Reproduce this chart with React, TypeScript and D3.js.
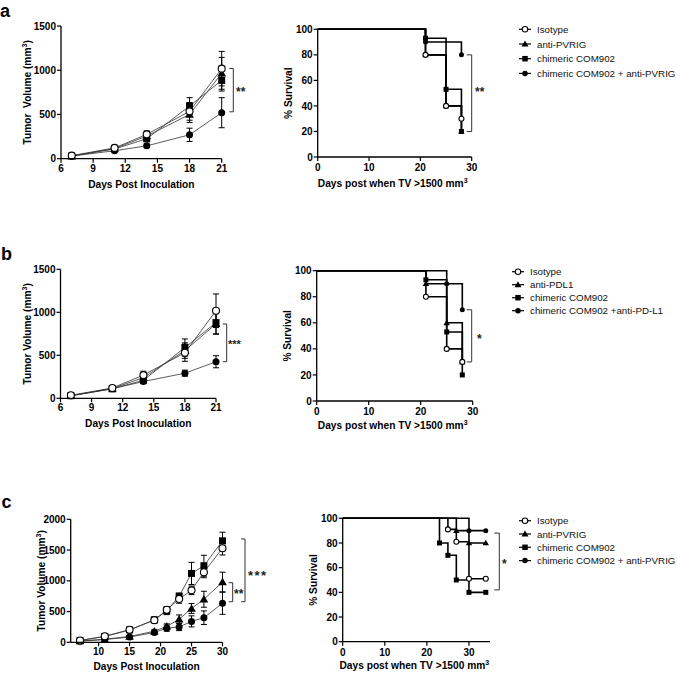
import React from 'react';
import * as d3 from 'd3';

const FONT = "'Liberation Sans', Arial, Helvetica, sans-serif";

// ---------- Panel a : tumor volume ----------
const aDays = [7, 11, 14, 18, 21];
const aIsotype = [35, 122, 275, 535, 1018];
const aIsotypeErr = [5, 15, 40, 100, 195];
const aPVRIG = [30, 115, 255, 500, 965];
const aPVRIGErr = [5, 15, 35, 90, 180];
const aCOM902 = [30, 110, 225, 595, 885];
const aCOM902Err = [5, 12, 30, 95, 120];
const aCombo = [30, 90, 145, 270, 520];
const aComboErr = [4, 10, 20, 75, 170];

// ---------- Panel b : tumor volume ----------
const bDays = [7, 11, 14, 18, 21];
const bIsotype = [35, 120, 270, 530, 1018];
const bIsotypeErr = [5, 12, 45, 100, 195];
const bPDL1 = [30, 115, 240, 555, 865];
const bPDL1Err = [5, 12, 35, 90, 120];
const bCOM902 = [30, 110, 210, 590, 880];
const bCOM902Err = [5, 12, 30, 100, 130];
const bCombo = [30, 112, 195, 292, 425];
const bComboErr = [4, 10, 20, 35, 70];

// ---------- Panel c : tumor volume ----------
const cDays = [7, 11, 15, 19, 21, 23, 25, 27, 30];
const cIsotype = [30, 98, 205, 360, 530, 705, 845, 1140, 1530];
const cIsotypeErr = [5, 10, 20, 40, 50, 70, 70, 90, 110];
const cPVRIG = [20, 50, 95, 180, 260, 375, 550, 700, 980];
const cPVRIGErr = [4, 8, 15, 30, 40, 70, 80, 130, 160];
const cCOM902 = [28, 95, 200, 365, 510, 750, 1120, 1245, 1650];
const cCOM902Err = [5, 10, 20, 40, 60, 50, 180, 170, 140];
const cCombo = [18, 45, 85, 160, 230, 250, 340, 400, 635];
const cComboErr = [4, 8, 15, 30, 50, 60, 90, 110, 180];

// ---------- Survival (event times / % survival) ----------
const aSurvIsotypeT = [21, 25, 28];
const aSurvIsotypeS = [80, 40, 30];
const aSurvPVRIGT = [21, 25, 28];
const aSurvPVRIGS = [80, 40, 20];
const aSurvCOM902T = [21, 25, 28];
const aSurvCOM902S = [93, 53, 20];
const aSurvComboT = [21, 28];
const aSurvComboS = [90, 80];
const aSurvEnd = 28;

const bSurvIsotypeT = [21, 25, 28];
const bSurvIsotypeS = [80, 40, 30];
const bSurvPDL1T = [21, 25, 28];
const bSurvPDL1S = [90, 60, 30];
const bSurvCOM902T = [21, 25, 28];
const bSurvCOM902S = [93, 53, 20];
const bSurvComboT = [25, 28];
const bSurvComboS = [90, 70];
const bSurvEnd = 28;

const cSurvIsotypeT = [25, 27, 30];
const cSurvIsotypeS = [91, 81, 51];
const cSurvPVRIGT = [27, 30];
const cSurvPVRIGS = [90, 80];
const cSurvCOM902T = [23, 25, 27, 30];
const cSurvCOM902S = [80, 70, 50, 40];
const cSurvComboT = [30];
const cSurvComboS = [90];
const cSurvEnd = 34;

const legendA = ['Isotype', 'anti-PVRIG', 'chimeric COM902', 'chimeric COM902 + anti-PVRIG'];
const legendB = ['Isotype', 'anti-PDL1', 'chimeric COM902', 'chimeric COM902 +anti-PD-L1'];
const legendC = ['Isotype', 'anti-PVRIG', 'chimeric COM902', 'chimeric COM902 + anti-PVRIG'];
const shapes = ['open', 'triangle', 'square', 'circle'];

const tumorYTicksAB = [0, 500, 1000, 1500];
const tumorXTicksAB = [6, 9, 12, 15, 18, 21];
const tumorYTicksC = [0, 500, 1000, 1500, 2000];
const tumorXTicksC = [10, 15, 20, 25, 30];
const survYTicks = [0, 20, 40, 60, 80, 100];
const survXTicks = [0, 10, 20, 30];

type Shape = string;

function Marker({ shape, x, y, s }: { shape: Shape; x: number; y: number; s: number }) {
  if (shape === 'open')
    return <circle cx={x} cy={y} r={s / 2} fill="#fff" stroke="#000" strokeWidth={1.1} />;
  if (shape === 'circle') return <circle cx={x} cy={y} r={s / 2} fill="#000" />;
  if (shape === 'square')
    return <rect x={x - s / 2} y={y - s / 2} width={s} height={s} fill="#000" />;
  const h = s * 0.95;
  return (
    <path
      d={`M${x},${y - h * 0.6} L${x + s * 0.58},${y + h * 0.45} L${x - s * 0.58},${y + h * 0.45} Z`}
      fill="#000"
    />
  );
}

function YAxis({ x, scale, ticks }: any) {
  const [r0, r1] = scale.range();
  return (
    <g>
      <line x1={x} x2={x} y1={r0} y2={r1} stroke="#000" strokeWidth={1.3} />
      {ticks.map((t: number) => (
        <g key={t}>
          <line x1={x - 4} x2={x} y1={scale(t)} y2={scale(t)} stroke="#000" strokeWidth={1.2} />
          <text
            x={x - 5}
            y={scale(t) + 3.6}
            textAnchor="end"
            fontSize={10}
            fontWeight="bold"
            fontFamily={FONT}
          >
            {t}
          </text>
        </g>
      ))}
    </g>
  );
}

function XAxis({ y, scale, ticks, labelDy = 13 }: any) {
  const [r0, r1] = scale.range();
  return (
    <g>
      <line x1={r0} x2={r1} y1={y} y2={y} stroke="#000" strokeWidth={1.3} />
      {ticks.map((t: number) => (
        <g key={t}>
          <line x1={scale(t)} x2={scale(t)} y1={y} y2={y + 4} stroke="#000" strokeWidth={1.2} />
          <text
            x={scale(t)}
            y={y + labelDy}
            textAnchor="middle"
            fontSize={10}
            fontWeight="bold"
            fontFamily={FONT}
          >
            {t}
          </text>
        </g>
      ))}
    </g>
  );
}

function Bracket({ x, yTop, yBot, tick = 4, label, lx, ly, fs = 12, ls = 0 }: any) {
  return (
    <g>
      <path
        d={`M${x - tick},${yTop} H${x} V${yBot} H${x - tick}`}
        fill="none"
        stroke="#333"
        strokeWidth={1}
      />
      <text
        x={lx}
        y={ly}
        fontSize={fs}
        fontWeight="bold"
        fontFamily={FONT}
        letterSpacing={ls}
        fill="#222"
      >
        {label}
      </text>
    </g>
  );
}

function TumorPanel({ xs, ys, days, series, errs, xTicks, yTicks, titleY, titleDy = 29, doubleSpace }: any) {
  const [xl] = xs.range();
  const [yb] = ys.range();
  const line = d3
    .line<number>()
    .x((_, i) => xs(days[i]))
    .y((d) => ys(d));
  const order = [3, 1, 2, 0];
  const yCenter = (ys.range()[0] + ys.range()[1]) / 2;
  const xCenter = (xs.range()[0] + xs.range()[1]) / 2;
  return (
    <g>
      {order.map((k) => (
        <g key={'e' + k}>
          {series[k].map((v: number, i: number) => {
            const e = errs[k][i];
            const x = xs(days[i]);
            return (
              <g key={i}>
                <line x1={x} x2={x} y1={ys(v - e)} y2={ys(v + e)} stroke="#000" strokeWidth={1} />
                <line x1={x - 3} x2={x + 3} y1={ys(v + e)} y2={ys(v + e)} stroke="#000" strokeWidth={1} />
                <line x1={x - 3} x2={x + 3} y1={ys(v - e)} y2={ys(v - e)} stroke="#000" strokeWidth={1} />
              </g>
            );
          })}
        </g>
      ))}
      {order.map((k) => (
        <path key={'l' + k} d={line(series[k]) || ''} fill="none" stroke="#333" strokeWidth={0.8} />
      ))}
      {order.map((k) => (
        <g key={'m' + k}>
          {series[k].map((v: number, i: number) => (
            <Marker key={i} shape={shapes[k]} x={xs(days[i])} y={ys(v)} s={k === 1 ? 7.5 : 7} />
          ))}
        </g>
      ))}
      <YAxis x={xl} scale={ys} ticks={yTicks} />
      <XAxis y={yb} scale={xs} ticks={xTicks} />
      <text
        x={xCenter}
        y={yb + titleDy}
        textAnchor="middle"
        fontSize={10.2}
        fontWeight="bold"
        fontFamily={FONT}
      >
        Days Post Inoculation
      </text>
      <text
        transform={`translate(${titleY},${yCenter}) rotate(-90)`}
        textAnchor="middle"
        fontSize={10.2}
        fontWeight="bold"
        fontFamily={FONT}
        style={{ whiteSpace: 'pre' }}
      >
        {doubleSpace ? 'Tumor  Volume (mm' : 'Tumor Volume (mm'}
        <tspan dy={-4} fontSize={7}>
          3
        </tspan>
        <tspan dy={4}>)</tspan>
      </text>
    </g>
  );
}

function SurvPanel({ xs, ys, groups, end, titleY, xTicks, titleDy = 30 }: any) {
  const [xl] = xs.range();
  const [yb] = ys.range();
  const line = d3
    .line<[number, number]>()
    .x((d) => xs(d[0]))
    .y((d) => ys(d[1]))
    .curve(d3.curveStepAfter);
  const order = [3, 2, 1, 0];
  const yCenter = (ys.range()[0] + ys.range()[1]) / 2;
  const xCenter = (xs.range()[0] + xs.range()[1]) / 2;
  return (
    <g>
      {order.map((k) => {
        const g = groups[k];
        const pts: [number, number][] = [[0, 100]];
        g.t.forEach((t: number, i: number) => pts.push([t, g.s[i]]));
        const last = pts[pts.length - 1];
        if (last[0] < end) pts.push([end, last[1]]);
        return <path key={'l' + k} d={line(pts) || ''} fill="none" stroke="#000" strokeWidth={1.6} />;
      })}
      {order.map((k) => {
        const g = groups[k];
        const pts: [number, number][] = g.t.map((t: number, i: number) => [t, g.s[i]]);
        const last = pts[pts.length - 1];
        if (last[0] < end) pts.push([end, last[1]]);
        return (
          <g key={'m' + k}>
            {pts.map((p, i) => (
              <Marker key={i} shape={shapes[k]} x={xs(p[0])} y={ys(p[1])} s={k === 1 ? 5.5 : 5} />
            ))}
          </g>
        );
      })}
      <YAxis x={xl} scale={ys} ticks={survYTicks} />
      <XAxis y={yb} scale={xs} ticks={xTicks} labelDy={14} />
      <text
        x={xCenter - 2}
        y={yb + titleDy}
        textAnchor="middle"
        fontSize={10.2}
        fontWeight="bold"
        fontFamily={FONT}
      >
        Days post when TV &gt;1500 mm
        <tspan dy={-4} fontSize={7}>
          3
        </tspan>
      </text>
      <text
        transform={`translate(${titleY},${yCenter}) rotate(-90)`}
        textAnchor="middle"
        fontSize={10.2}
        fontWeight="bold"
        fontFamily={FONT}
      >
        % Survival
      </text>
    </g>
  );
}

function Legend({ x, y0, dy, labels }: any) {
  return (
    <g>
      {labels.map((l: string, i: number) => {
        const y = y0 + i * dy;
        return (
          <g key={l}>
            <line x1={x - 6} x2={x + 6} y1={y} y2={y} stroke="#000" strokeWidth={1.2} />
            <Marker shape={shapes[i]} x={x} y={y} s={i === 1 ? 6 : 5.5} />
            <text x={x + 12} y={y + 3.5} fontSize={9.75} fontFamily={FONT} fill="#111">
              {l}
            </text>
          </g>
        );
      })}
    </g>
  );
}

export default function App() {
  // Panel a
  const aTx = d3.scaleLinear().domain([6, 21]).range([61, 221.7]);
  const aTy = d3.scaleLinear().domain([0, 1500]).range([158.7, 26]);
  const aSx = d3.scaleLinear().domain([0, 30]).range([317.7, 471.7]);
  const aSy = d3.scaleLinear().domain([0, 100]).range([157, 29.3]);
  // Panel b
  const bTx = d3.scaleLinear().domain([6, 21]).range([60.5, 216]);
  const bTy = d3.scaleLinear().domain([0, 1500]).range([398.3, 269.3]);
  const bSx = d3.scaleLinear().domain([0, 30]).range([316.7, 472.7]);
  const bSy = d3.scaleLinear().domain([0, 100]).range([401, 270.7]);
  // Panel c
  const cTx = d3.scaleLinear().domain([5.5, 30]).range([70.7, 222.5]);
  const cTy = d3.scaleLinear().domain([0, 2000]).range([642.3, 519.3]);
  const cSx = d3.scaleLinear().domain([0, 35]).range([342.7, 490]);
  const cSy = d3.scaleLinear().domain([0, 100]).range([641.7, 518.3]);

  const aGroups = [
    { t: aSurvIsotypeT, s: aSurvIsotypeS },
    { t: aSurvPVRIGT, s: aSurvPVRIGS },
    { t: aSurvCOM902T, s: aSurvCOM902S },
    { t: aSurvComboT, s: aSurvComboS },
  ];
  const bGroups = [
    { t: bSurvIsotypeT, s: bSurvIsotypeS },
    { t: bSurvPDL1T, s: bSurvPDL1S },
    { t: bSurvCOM902T, s: bSurvCOM902S },
    { t: bSurvComboT, s: bSurvComboS },
  ];
  const cGroups = [
    { t: cSurvIsotypeT, s: cSurvIsotypeS },
    { t: cSurvPVRIGT, s: cSurvPVRIGS },
    { t: cSurvCOM902T, s: cSurvCOM902S },
    { t: cSurvComboT, s: cSurvComboS },
  ];

  return (
    <svg
      width={677}
      height={673}
      style={{ position: 'absolute', left: 0, top: 0, background: '#fff' }}
      fontFamily={FONT}
    >
      <rect width={677} height={673} fill="#fff" />
      <text x={0} y={16.5} fontSize={18} fontWeight="bold" fontFamily={FONT}>a</text>
      <text x={1} y={260} fontSize={18} fontWeight="bold" fontFamily={FONT}>b</text>
      <text x={1.5} y={508} fontSize={18} fontWeight="bold" fontFamily={FONT}>c</text>

      <TumorPanel
        xs={aTx}
        ys={aTy}
        days={aDays}
        series={[aIsotype, aPVRIG, aCOM902, aCombo]}
        errs={[aIsotypeErr, aPVRIGErr, aCOM902Err, aComboErr]}
        xTicks={tumorXTicksAB}
        yTicks={tumorYTicksAB}
        titleY={30.5}
        doubleSpace
      />
      <Bracket x={233.3} yTop={aTy(1020)} yBot={aTy(530)} label="**" lx={236} ly={96} fs={12} />

      <SurvPanel xs={aSx} ys={aSy} groups={aGroups} end={aSurvEnd} titleY={292} xTicks={survXTicks} />
      <Bracket x={471.7} yTop={aSy(80)} yBot={aSy(20)} tick={5} label="**" lx={475} ly={96} fs={12} />
      <Legend x={525} y0={29.3} dy={14.7} labels={legendA} />

      <TumorPanel
        xs={bTx}
        ys={bTy}
        days={bDays}
        series={[bIsotype, bPDL1, bCOM902, bCombo]}
        errs={[bIsotypeErr, bPDL1Err, bCOM902Err, bComboErr]}
        xTicks={tumorXTicksAB}
        yTicks={tumorYTicksAB}
        titleY={30.5}
      />
      <Bracket x={226.7} yTop={bTy(864)} yBot={bTy(426)} label="***" lx={228} ly={347.5} fs={11} />

      <SurvPanel xs={bSx} ys={bSy} groups={bGroups} end={bSurvEnd} titleY={291} xTicks={survXTicks} titleDy={28} />
      <Bracket x={471.7} yTop={bSy(70)} yBot={bSy(30)} tick={5} label="*" lx={477} ly={343} fs={12} />
      <Legend x={518} y0={271.7} dy={13} labels={legendB} />

      <TumorPanel
        xs={cTx}
        ys={cTy}
        days={cDays}
        series={[cIsotype, cPVRIG, cCOM902, cCombo]}
        errs={[cIsotypeErr, cPVRIGErr, cCOM902Err, cComboErr]}
        xTicks={tumorXTicksC}
        yTicks={tumorYTicksC}
        titleY={45.3}
        titleDy={27.5}
      />
      <Bracket x={245} yTop={cTy(1680)} yBot={cTy(660)} label="***" lx={248} ly={580} fs={13} ls={1.5} />
      <Bracket x={232.7} yTop={cTy(969)} yBot={cTy(660)} label="**" lx={234} ly={598} fs={12} />

      <SurvPanel xs={cSx} ys={cSy} groups={cGroups} end={cSurvEnd} titleY={317} xTicks={survXTicks} titleDy={27.5} />
      <Bracket x={499.3} yTop={cSy(88)} yBot={cSy(42)} tick={5} label="*" lx={502} ly={568} fs={12} />
      <Legend x={525} y0={520.7} dy={13.3} labels={legendC} />
    </svg>
  );
}
